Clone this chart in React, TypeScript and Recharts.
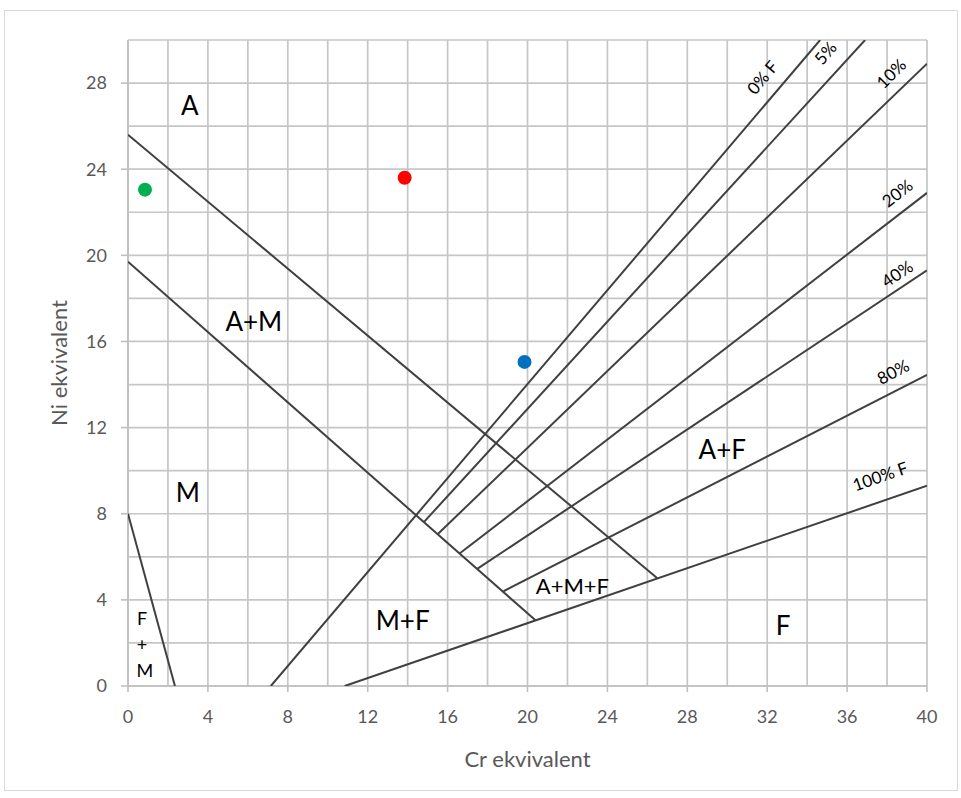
import React from 'react';
import { ScatterChart, Scatter, XAxis, YAxis, CartesianGrid, Label } from 'recharts';

// Phase boundary lines (Cr eq, Ni eq)
const lineA_AM = [{ x: 0, y: 25.6 }, { x: 26.5, y: 5.0 }];
const lineAM_M = [{ x: 0, y: 19.7 }, { x: 20.4, y: 3.05 }];
const lineFM = [{ x: 0, y: 8 }, { x: 2.35, y: 0 }];
const ferrite0 = [{ x: 7.15, y: 0 }, { x: 34.65, y: 30 }];
const ferrite5 = [{ x: 14.8, y: 7.6 }, { x: 36.9, y: 30 }];
const ferrite10 = [{ x: 15.5, y: 7.05 }, { x: 40, y: 28.9 }];
const ferrite20 = [{ x: 16.6, y: 6.15 }, { x: 40, y: 22.9 }];
const ferrite40 = [{ x: 17.5, y: 5.45 }, { x: 40, y: 19.3 }];
const ferrite80 = [{ x: 18.8, y: 4.4 }, { x: 40, y: 14.45 }];
const ferrite100 = [{ x: 10.85, y: 0 }, { x: 40, y: 9.3 }];

const boundaryLines = [lineA_AM, lineAM_M, lineFM, ferrite0, ferrite5, ferrite10, ferrite20, ferrite40, ferrite80, ferrite100];

// Measured points
const greenPoint = [{ x: 0.85, y: 23.05 }];
const redPoint = [{ x: 13.85, y: 23.6 }];
const bluePoint = [{ x: 19.85, y: 15.05 }];

// Region labels
const regionLabels = [
  { text: 'A', x: 3.1, y: 27.0, size: 26 },
  { text: 'A+M', x: 6.3, y: 16.95, size: 26 },
  { text: 'M', x: 3.0, y: 9.0, size: 26 },
  { text: 'M+F', x: 13.75, y: 3.05, size: 26 },
  { text: 'A+M+F', x: 22.25, y: 4.65, size: 22 },
  { text: 'A+F', x: 29.75, y: 11.0, size: 26 },
  { text: 'F', x: 32.8, y: 2.85, size: 26 },
  { text: 'F', x: 0.7, y: 3.15, size: 18 },
  { text: '+', x: 0.7, y: 1.95, size: 18 },
  { text: 'M', x: 0.85, y: 0.75, size: 18 },
];

// Ferrite percentage labels
const ferriteLabels = [
  { text: '0% F', x: 31.75, y: 28.27, angle: -50 },
  { text: '5%', x: 34.9, y: 29.4, angle: -50 },
  { text: '10%', x: 38.2, y: 28.45, angle: -45 },
  { text: '20%', x: 38.5, y: 22.9, angle: -38 },
  { text: '40%', x: 38.5, y: 19.15, angle: -34 },
  { text: '80%', x: 38.3, y: 14.6, angle: -28 },
  { text: '100% F', x: 37.65, y: 9.75, angle: -19 },
];

// Grid every 2 units, labels every 4
const xTicks = [0, 2, 4, 6, 8, 10, 12, 14, 16, 18, 20, 22, 24, 26, 28, 30, 32, 34, 36, 38, 40];
const yTicks = [0, 2, 4, 6, 8, 10, 12, 14, 16, 18, 20, 22, 24, 26, 28, 30];
const LABEL_STEP = 4;

const FONT = 'Lato, "Open Sans", sans-serif';
const LINE = '#404040';
const AXIS = '#bfbfbf';
const TICK_SIZE = 6;
const TICK_MARGIN = 14;

const noShape = () => <g />;

const dot = (color: string) => (p: any) => <circle cx={p.cx} cy={p.cy} r={7} fill={color} />;

const regionText = (p: any) => (
  <text x={p.cx} y={p.cy} textAnchor="middle" dominantBaseline="central" fontFamily={FONT} fontSize={p.payload.size} fill="#000">
    {p.payload.text}
  </text>
);

const ferriteText = (p: any) => (
  <text
    x={p.cx}
    y={p.cy}
    textAnchor="middle"
    dominantBaseline="central"
    fontFamily={FONT}
    fontSize={17}
    fill="#000"
    transform={`rotate(${p.payload.angle}, ${p.cx}, ${p.cy})`}
  >
    {p.payload.text}
  </text>
);

const XTick = (p: any) => {
  const v = p.payload.value;
  if (v % LABEL_STEP !== 0) return <g />;
  const axisY = p.y - TICK_SIZE - TICK_MARGIN;
  return (
    <g>
      <line x1={p.x} x2={p.x} y1={axisY} y2={axisY + TICK_SIZE} stroke={AXIS} strokeWidth={1.6} />
      <text x={p.x} y={p.y + 4} dy="0.71em" textAnchor="middle" fill="#595959" fontSize={18} fontFamily={FONT}>
        {v}
      </text>
    </g>
  );
};

const YTick = (p: any) => {
  const v = p.payload.value;
  if (v % LABEL_STEP !== 0 || v === 30) return <g />;
  const axisX = p.x + TICK_SIZE + 1 + TICK_MARGIN;
  return (
    <g>
      <line x1={axisX - TICK_SIZE - 1} x2={axisX} y1={p.y} y2={p.y} stroke={AXIS} strokeWidth={1.6} />
      <text x={p.x} y={p.y} dy="0.355em" textAnchor="end" fill="#595959" fontSize={18} fontFamily={FONT}>
        {v}
      </text>
    </g>
  );
};

export default function App() {
  return (
    <div style={{ position: 'absolute', left: 0, top: 0, width: 961, height: 798, background: '#fff' }}>
      <div style={{ position: 'absolute', left: 4, top: 10, width: 952, height: 779, border: '1px solid #d9d9d9', pointerEvents: 'none' }} />
      <ScatterChart width={961} height={798} margin={{ top: 40, right: 34, bottom: 0, left: 0 }}>
        <CartesianGrid stroke="#c6c6c6" strokeWidth={1.7} />
        <XAxis
          type="number"
          dataKey="x"
          domain={[0, 40]}
          ticks={xTicks}
          interval={0}
          height={112}
          tickSize={TICK_SIZE}
          tickMargin={TICK_MARGIN}
          axisLine={{ stroke: AXIS, strokeWidth: 1.6 }}
          tickLine={false}
          tick={XTick}
          allowDataOverflow
        >
          <Label value="Cr ekvivalent" position="insideBottom" offset={31} style={{ fill: '#595959', fontSize: 22, fontFamily: FONT }} />
        </XAxis>
        <YAxis
          type="number"
          dataKey="y"
          domain={[0, 30]}
          ticks={yTicks}
          interval={0}
          width={128}
          tickSize={TICK_SIZE + 1}
          tickMargin={TICK_MARGIN}
          axisLine={{ stroke: AXIS, strokeWidth: 1.6 }}
          tickLine={false}
          tick={YTick}
          allowDataOverflow
        >
          <Label value="Ni ekvivalent" angle={-90} position="insideLeft" offset={59} style={{ fill: '#595959', fontSize: 22, fontFamily: FONT, textAnchor: 'middle' }} />
        </YAxis>
        {boundaryLines.map((d, i) => (
          <Scatter
            key={`line-${i}`}
            data={d}
            line={{ stroke: LINE, strokeWidth: 2 }}
            stroke={LINE}
            shape={noShape}
            isAnimationActive={false}
            legendType="none"
          />
        ))}
        <Scatter data={greenPoint} fill="#00b050" shape={dot('#00b050')} isAnimationActive={false} />
        <Scatter data={redPoint} fill="#ff0000" shape={dot('#ff0000')} isAnimationActive={false} />
        <Scatter data={bluePoint} fill="#0070c0" shape={dot('#0070c0')} isAnimationActive={false} />
        <Scatter data={regionLabels} shape={regionText} isAnimationActive={false} />
        <Scatter data={ferriteLabels} shape={ferriteText} isAnimationActive={false} />
      </ScatterChart>
    </div>
  );
}
